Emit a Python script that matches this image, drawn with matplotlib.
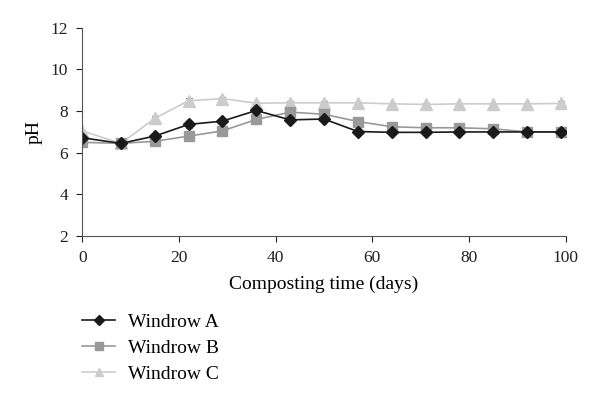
import matplotlib
matplotlib.use('Agg')
import matplotlib.pyplot as plt
from matplotlib.lines import Line2D

plt.rcParams['font.family'] = ['Liberation Serif', 'DejaVu Serif']

days = [0, 8, 15, 22, 29, 36, 43, 50, 57, 64, 71, 78, 85, 92, 99]
ph_a = [6.72, 6.45, 6.8, 7.36, 7.52, 8.03, 7.58, 7.62, 7.02, 6.98, 6.98, 7.0, 7.0, 7.0, 7.0]
ph_b = [6.5, 6.45, 6.55, 6.8, 7.05, 7.6, 7.95, 7.85, 7.5, 7.25, 7.2, 7.2, 7.15, 7.0, 7.0]
ph_c = [7.05, 6.45, 7.65, 8.5, 8.6, 8.38, 8.4, 8.4, 8.4, 8.35, 8.32, 8.35, 8.35, 8.35, 8.37]
err_a = [0.1, 0.05, 0.1, 0.15, 0.1, 0.1, 0.1, 0.1, 0.05, 0.05, 0.05, 0.05, 0.05, 0.05, 0.05]
err_b = [0.05, 0.05, 0.05, 0.05, 0.05, 0.05, 0.05, 0.05, 0.05, 0.05, 0.05, 0.05, 0.05, 0.05, 0.05]
err_c = [0.05, 0.05, 0.1, 0.15, 0.1, 0.05, 0.1, 0.1, 0.05, 0.05, 0.05, 0.05, 0.05, 0.05, 0.1]

series = [
    ('Windrow A', ph_a, err_a, '#1a1a1a', 'D', 6.5),
    ('Windrow B', ph_b, err_b, '#999999', 's', 7.5),
    ('Windrow C', ph_c, err_c, '#cccccc', '^', 8),
]

fig = plt.figure(figsize=(6, 3.98), dpi=100)
ax = fig.add_axes([0.137, 0.407, 0.806, 0.523])

handles = []
for name, vals, err, col, mk, ms in series[::-1]:
    ax.errorbar(days, vals, yerr=err, color=col, marker=mk, markersize=ms,
                linewidth=1.2, ecolor='#222222', elinewidth=0.8, capsize=2.5,
                capthick=0.8)
for name, vals, err, col, mk, ms in series:
    handles.append(Line2D([], [], color=col, marker=mk, markersize=ms * 0.75,
                          linewidth=1.2, label=name))

ax.set_xlim(0, 100)
ax.set_ylim(2, 12)
ax.set_xticks(range(0, 101, 20))
ax.set_yticks(range(2, 13, 2))
ax.tick_params(labelsize=12.5, colors='#222222', direction='out', length=4, pad=6)
for s in ['top', 'right']:
    ax.spines[s].set_visible(False)
for s in ['left', 'bottom']:
    ax.spines[s].set_color('#555555')
ax.set_xlabel('Composting time (days)', fontsize=14, labelpad=7)
ax.set_ylabel('pH', fontsize=14, labelpad=6)

fig.legend(handles=handles, loc='upper left', bbox_to_anchor=(82 / 600, 1 - 313 / 398),
           frameon=False, fontsize=14, handlelength=1.7, handletextpad=0.67,
           labelspacing=0.43, borderpad=0, borderaxespad=0)

fig.savefig('out.png', dpi=100)
